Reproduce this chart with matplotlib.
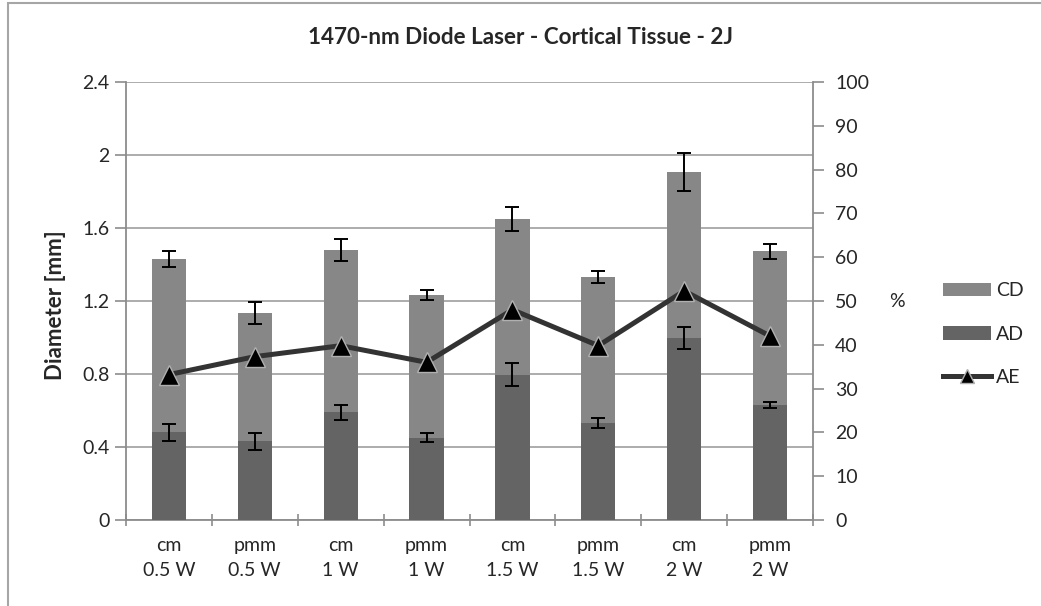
import matplotlib
matplotlib.use("Agg")
import matplotlib.pyplot as plt
from matplotlib.patches import Rectangle
import numpy as np

# values
CATEGORIES = ["cm\n0.5 W", "pmm\n0.5 W", "cm\n1 W", "pmm\n1 W",
              "cm\n1.5 W", "pmm\n1.5 W", "cm\n2 W", "pmm\n2 W"]
CD = [1.43, 1.135, 1.478, 1.232, 1.648, 1.332, 1.905, 1.472]
CD_ERR = [0.045, 0.062, 0.06, 0.027, 0.066, 0.035, 0.104, 0.04]
AD = [0.48, 0.432, 0.59, 0.45, 0.797, 0.532, 0.997, 0.628]
AD_ERR = [0.045, 0.046, 0.042, 0.025, 0.063, 0.028, 0.062, 0.017]
AE = [33.2, 37.3, 39.8, 36.0, 48.0, 39.8, 52.3, 42.0]

LEFT_TICKS = [0, 0.4, 0.8, 1.2, 1.6, 2.0, 2.4]
LEFT_LABELS = ["0", "0.4", "0.8", "1.2", "1.6", "2", "2.4"]
RIGHT_TICKS = list(range(0, 101, 10))

plt.rcParams['font.family'] = ['Lato', 'DejaVu Sans']

CD_COLOR = '#878787'
AD_COLOR = '#646464'
AXIS_COLOR = '#8c8c8c'
TEXT_COLOR = '#262626'
FS = 14


def main():
    fig = plt.figure(figsize=(10.41, 6.06), dpi=100)
    # outer chart frame (cropped at right/bottom in the source)
    fig.patches.append(Rectangle((8 / 1041, -0.05), 1.2, 1 - 3 / 606 + 0.05,
                                 transform=fig.transFigure, fill=False,
                                 edgecolor='#a6a6a6', linewidth=1.5))

    ax = fig.add_axes([126 / 1041, 1 - 520 / 606, (813 - 126) / 1041, (520 - 82) / 606])
    x = np.arange(len(CATEGORIES))
    width = 0.4

    ax.bar(x, CD, width, color=CD_COLOR, label='CD', zorder=2)
    ax.bar(x, AD, width, color=AD_COLOR, label='AD', zorder=3)
    ax.errorbar(x, CD, yerr=CD_ERR, fmt='none', ecolor='black', elinewidth=1.4,
                capsize=5, capthick=1.4, zorder=4)
    ax.errorbar(x, AD, yerr=AD_ERR, fmt='none', ecolor='black', elinewidth=1.4,
                capsize=5, capthick=1.4, zorder=4)

    ax.set_xlim(-0.5, len(CATEGORIES) - 0.5)
    ax.set_ylim(0, 2.4)
    ax.set_yticks(LEFT_TICKS)
    ax.set_yticklabels(LEFT_LABELS)
    ax.yaxis.grid(True, color='#a6a6a6', linewidth=1.3, zorder=0)
    ax.set_axisbelow(True)

    # category labels at centres, tick marks between categories
    ax.set_xticks(x)
    ax.set_xticklabels(CATEGORIES, linespacing=1.6)
    ax.set_xticks(np.arange(-0.5, len(CATEGORIES)), minor=True)
    ax.tick_params(axis='x', which='major', length=0, pad=12,
                   labelsize=FS, labelcolor=TEXT_COLOR)
    ax.tick_params(axis='x', which='minor', length=8, width=1.2,
                   color=AXIS_COLOR, direction='inout')
    ax.tick_params(axis='y', length=8, width=1.2, color=AXIS_COLOR,
                   labelsize=FS, labelcolor=TEXT_COLOR, pad=4)

    for side in ['top', 'right']:
        ax.spines[side].set_visible(False)
    for side in ['left', 'bottom']:
        ax.spines[side].set_color(AXIS_COLOR)
        ax.spines[side].set_linewidth(1.3)

    # y axis title placed directly in figure pixels
    fig.text(55 / 1041, 1 - 305 / 606, 'Diameter [mm]', fontsize=16,
             fontweight='bold', color=TEXT_COLOR, rotation=90,
             ha='center', va='center')

    ax2 = ax.twinx()
    ax2.plot(x, AE, color='#333333', linewidth=3.6, marker='^', markersize=14,
             markerfacecolor='black', markeredgecolor='#b0b0b0',
             markeredgewidth=1.0, label='AE', zorder=5)
    ax2.set_ylim(0, 100)
    ax2.set_yticks(RIGHT_TICKS)
    ax2.tick_params(axis='y', length=8, width=1.2, color=AXIS_COLOR,
                    labelsize=FS, labelcolor=TEXT_COLOR, pad=8)
    for side in ['top', 'left', 'bottom']:
        ax2.spines[side].set_visible(False)
    ax2.spines['right'].set_color(AXIS_COLOR)
    ax2.spines['right'].set_linewidth(1.3)

    fig.text(897 / 1041, 1 - 302 / 606, '%', fontsize=FS, color=TEXT_COLOR,
             ha='center', va='center')

    fig.text(0.5, 1 - 38 / 606,
             '1470-nm Diode Laser - Cortical Tissue - 2J',
             fontsize=16.2, fontweight='bold', color=TEXT_COLOR,
             ha='center', va='center')

    h1, l1 = ax.get_legend_handles_labels()
    h2, l2 = ax2.get_legend_handles_labels()
    leg = fig.legend(h1 + h2, l1 + l2, loc='center left',
                     bbox_to_anchor=(925 / 1041, 1 - 334 / 606),
                     frameon=False, fontsize=FS, labelspacing=1.35,
                     handlelength=2.5, handleheight=0.72, handletextpad=0.25,
                     markerscale=0.7)
    for t in leg.get_texts():
        t.set_color(TEXT_COLOR)

    fig.savefig('out.png', dpi=100, facecolor='white')


if __name__ == '__main__':
    main()
